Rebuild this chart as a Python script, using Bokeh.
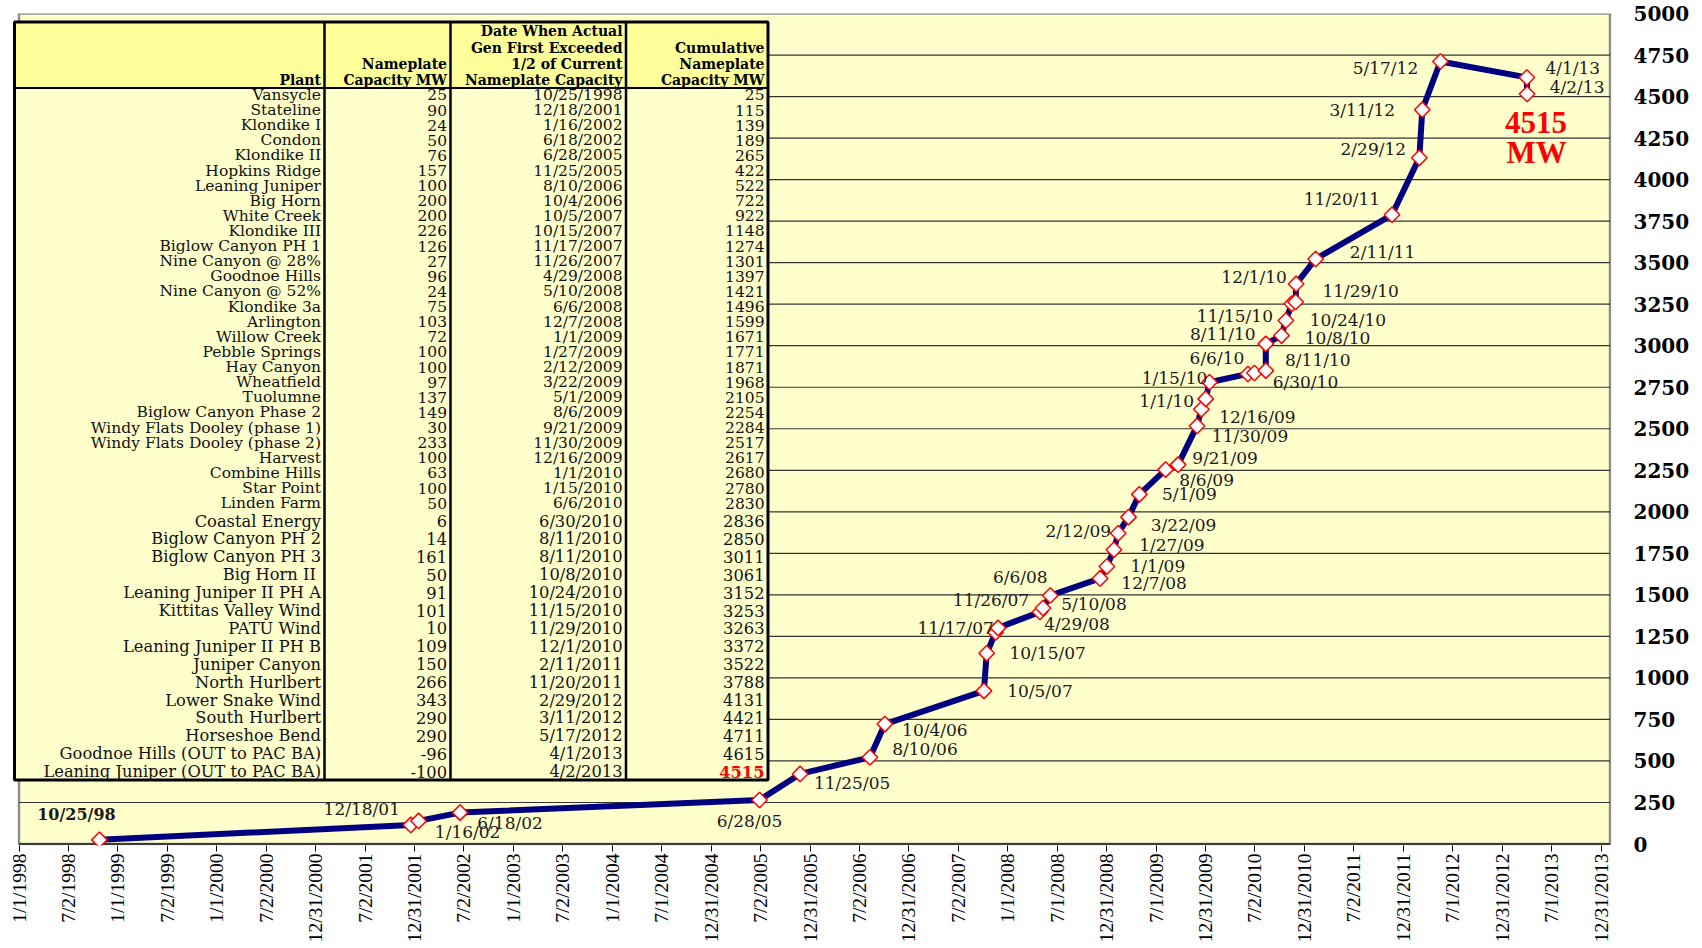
import numpy as np
import pandas as pd
from bokeh.plotting import figure
from bokeh.models import Range1d, FixedTicker, ColumnDataSource
from bokeh.core.properties import value
from bokeh.embed import file_html
from bokeh.resources import INLINE

# ---------------- data ----------------
plants = ["Vansycle", "Stateline", "Klondike I", "Condon", "Klondike II", "Hopkins Ridge",
          "Leaning Juniper", "Big Horn", "White Creek", "Klondike III", "Biglow Canyon PH 1",
          "Nine Canyon @ 28%", "Goodnoe Hills", "Nine Canyon @ 52%", "Klondike 3a", "Arlington",
          "Willow Creek", "Pebble Springs", "Hay Canyon", "Wheatfield", "Tuolumne",
          "Biglow Canyon Phase 2", "Windy Flats Dooley (phase 1)", "Windy Flats Dooley (phase 2)",
          "Harvest", "Combine Hills", "Star Point", "Linden Farm", "Coastal Energy",
          "Biglow Canyon PH 2", "Biglow Canyon PH 3", "Big  Horn II", "Leaning Juniper II PH A",
          "Kittitas Valley Wind", "PATU Wind", "Leaning Juniper II PH B", "Juniper Canyon",
          "North Hurlbert", "Lower Snake Wind", "South Hurlbert", "Horseshoe Bend",
          "Goodnoe Hills (OUT to PAC BA)", "Leaning Juniper (OUT to PAC BA)"]
nameplate_mw = [25, 90, 24, 50, 76, 157, 100, 200, 200, 226, 126, 27, 96, 24, 75, 103, 72, 100,
                100, 97, 137, 149, 30, 233, 100, 63, 100, 50, 6, 14, 161, 50, 91, 101, 10, 109,
                150, 266, 343, 290, 290, -96, -100]
first_gen_dates = ["10/25/1998", "12/18/2001", "1/16/2002", "6/18/2002", "6/28/2005",
                   "11/25/2005", "8/10/2006", "10/4/2006", "10/5/2007", "10/15/2007",
                   "11/17/2007", "11/26/2007", "4/29/2008", "5/10/2008", "6/6/2008",
                   "12/7/2008", "1/1/2009", "1/27/2009", "2/12/2009", "3/22/2009", "5/1/2009",
                   "8/6/2009", "9/21/2009", "11/30/2009", "12/16/2009", "1/1/2010",
                   "1/15/2010", "6/6/2010", "6/30/2010", "8/11/2010", "8/11/2010",
                   "10/8/2010", "10/24/2010", "11/15/2010", "11/29/2010", "12/1/2010",
                   "2/11/2011", "11/20/2011", "2/29/2012", "3/11/2012", "5/17/2012",
                   "4/1/2013", "4/2/2013"]
cumulative_mw = [25, 115, 139, 189, 265, 422, 522, 722, 922, 1148, 1274, 1301, 1397, 1421,
                 1496, 1599, 1671, 1771, 1871, 1968, 2105, 2254, 2284, 2517, 2617, 2680, 2780,
                 2830, 2836, 2850, 3011, 3061, 3152, 3253, 3263, 3372, 3522, 3788, 4131, 4421,
                 4711, 4615, 4515]
x_tick_labels = ["1/1/1998", "7/2/1998", "1/1/1999", "7/2/1999", "1/1/2000", "7/2/2000",
                 "12/31/2000", "7/2/2001", "12/31/2001", "7/2/2002", "1/1/2003", "7/2/2003",
                 "1/1/2004", "7/1/2004", "12/31/2004", "7/2/2005", "12/31/2005", "7/2/2006",
                 "12/31/2006", "7/2/2007", "1/1/2008", "7/1/2008", "12/31/2008", "7/1/2009",
                 "12/31/2009", "7/2/2010", "12/31/2010", "7/2/2011", "12/31/2011", "7/1/2012",
                 "12/31/2012", "7/1/2013", "12/31/2013"]
y_ticks = list(range(0, 5001, 250))
column_headers = ["Plant",
                  "Nameplate\nCapacity MW",
                  "Date When Actual\nGen First Exceeded\n1/2 of Current\nNameplate Capacity",
                  "Cumulative\nNameplate\nCapacity MW"]
total_unit = "MW"

# ---------------- layout / style (screen pixels) ----------------
label_offsets = [(-23, -25), (-49, -16), (49, 11), (50, 10), (-10, 21), (52, 9), (55, -8),
                 (50, 6), (56, 0), (61, 0), (-40, -4), (-7, -28), (37, 12), (51, -4),
                 (-30, -19), (54, 5), (51, 0), (58, -5), (-40, -2), (55, 8), (50, 0), (41, 10),
                 (47, -7), (53, 10), (56, 8), (-39, 2), (-35, -4), (-31, -16), (51, 9),
                 (52, -11), (-43, -10), (56, 2), (62, 0), (-57, 12), (65, -11), (-42, -7),
                 (67, -7), (-50, -16), (-46, -9), (-60, 0), (-55, 6), (46, -9), (50, -7)]

W, H = 1700, 946
WIN_L, WIN_R, WIN_T, WIN_B = 12, 1611, 13, 845
MB_L, MB_R, MB_T, MB_B = WIN_L, W - WIN_R, WIN_T, H - WIN_B
TICK0_PX, TICKN_PX = 18.5, 1600.5
BORDER_R_PX = 1609.5
ZERO_PX = 843.5

dates = pd.to_datetime(first_gen_dates, format="%m/%d/%Y")
x_ms = (dates.astype("int64") // 10**6).to_numpy().astype(float)
tick_dates = pd.to_datetime(x_tick_labels, format="%m/%d/%Y")
t_first = float(tick_dates[0].value // 10**6)
t_last = float(tick_dates[-1].value // 10**6)
ms_per_px = (t_last - t_first) / (TICKN_PX - TICK0_PX)


def px2ms(px):
    return t_first + (px - TICK0_PX) * ms_per_px


tick_ms = [int(round(v)) for v in np.linspace(t_first, t_last, len(x_tick_labels))]
y_per_px = y_ticks[-1] / (ZERO_PX - WIN_T)
y_start = -(WIN_B - ZERO_PX) * y_per_px

p = figure(width=W, height=H, output_backend="svg", toolbar_location=None,
           x_range=Range1d(px2ms(WIN_L), px2ms(WIN_R)), y_range=Range1d(y_start, y_ticks[-1]),
           y_axis_location="right",
           min_border_left=MB_L, min_border_right=MB_R, min_border_top=MB_T,
           min_border_bottom=MB_B, background_fill_color="white",
           border_fill_color="white", outline_line_color=None)
p.grid.visible = False
p.extra_x_ranges = {"tx": Range1d(WIN_L, WIN_R)}
p.extra_y_ranges = {"ty": Range1d(WIN_B, WIN_T)}

# axes
xa = p.xaxis[0]
xa.ticker = FixedTicker(ticks=tick_ms)
xa.major_label_overrides = {t: lab for t, lab in zip(tick_ms, x_tick_labels)}
xa.major_label_orientation = np.pi / 2
xa.axis_line_color = None
xa.major_tick_out = 6
xa.major_tick_in = 0
xa.major_tick_line_color = "black"
xa.minor_tick_line_color = None
xa.major_label_standoff = 2
xa.major_label_text_font = "Liberation Serif"
xa.major_label_text_font_size = "19.5px"
xa.major_label_text_color = "black"

ya = p.yaxis[0]
ya.ticker = FixedTicker(ticks=y_ticks)
ya.axis_line_color = None
ya.major_tick_line_color = None
ya.minor_tick_line_color = None
ya.major_label_standoff = 16
ya.major_label_text_font = "DejaVu Serif"
ya.major_label_text_font_style = "bold"
ya.major_label_text_font_size = "20px"
ya.major_label_text_color = "black"

# plot area background and grid
x_left_border = t_first
x_right_border = px2ms(BORDER_R_PX)
p.quad(left=[x_left_border], right=[x_right_border], bottom=[0], top=[y_ticks[-1]],
       fill_color="#FFFFCC", line_color="#8C8C8C", line_width=2.5)
grid_y = y_ticks[1:-1]
p.segment(x0=[x_left_border] * len(grid_y), x1=[x_right_border] * len(grid_y),
          y0=grid_y, y1=grid_y, line_color="#333333", line_width=1.2)
p.segment(x0=[x_left_border], x1=[x_right_border], y0=[0], y1=[0],
          line_color="#222222", line_width=1.5)

# ---------------- table ----------------
T_L, T_R, T_T, T_HB, T_B = 14, 767.5, 21.5, 87.5, 779.5
col_seps = [324, 450, 625.5]
col_right = [320.5, 446.5, 622, 764]
tr = dict(x_range_name="tx", y_range_name="ty")
p.quad(left=[T_L], right=[T_R], top=[T_T], bottom=[T_HB], fill_color="#FFFF99",
       line_color=None, **tr)
p.quad(left=[T_L], right=[T_R], top=[T_HB], bottom=[T_B], fill_color="#FFFFCC",
       line_color=None, **tr)
p.segment(x0=col_seps, x1=col_seps, y0=[T_T] * 3, y1=[T_B] * 3, line_color="black",
          line_width=2.5, **tr)
p.segment(x0=[T_L], x1=[T_R], y0=[T_HB], y1=[T_HB], line_color="black", line_width=2, **tr)
p.quad(left=[T_L], right=[T_R], top=[T_T], bottom=[T_B], fill_color=None,
       line_color="black", line_width=3, **tr)

header_line_y = [30.5, 47, 63.5, 79.5]
hx, hy, ht = [], [], []
for ci, h in enumerate(column_headers):
    lines = h.split("\n")
    for li, s in enumerate(lines):
        hx.append(col_right[ci])
        hy.append(header_line_y[len(header_line_y) - len(lines) + li])
        ht.append(s)
p.text(x=hx, y=hy, text=ht, text_align="right", text_baseline="middle",
       text_font=value("DejaVu Serif"), text_font_style="bold", text_font_size="14px",
       text_color="black", **tr)

n = len(plants)
SPLIT = 28
row_y = [94.4 + i * 15.12 if i < SPLIT else 520.5 + (i - SPLIT) * 17.9 for i in range(n)]
cells = [plants, [str(v) for v in nameplate_mw], first_gen_dates,
         [str(v) for v in cumulative_mw[:-1]] + [""]]
for ci, col in enumerate(cells):
    for lo, hi, fs in ((0, SPLIT, "15.5px"), (SPLIT, n, "16.3px")):
        p.text(x=[col_right[ci]] * (hi - lo), y=row_y[lo:hi], text=col[lo:hi],
               text_align="right", text_baseline="middle", text_font=value("DejaVu Serif"),
               text_font_size=fs, text_color="#111111", **tr)
p.text(x=[col_right[3]], y=[row_y[-1]], text=[str(cumulative_mw[-1])], text_align="right",
       text_baseline="middle", text_font=value("DejaVu Serif"), text_font_style="bold",
       text_font_size="16.3px", text_color="#FF0000", **tr)

# ---------------- series ----------------
src = ColumnDataSource(dict(x=x_ms, y=cumulative_mw))
p.line("x", "y", source=src, line_width=6, line_color="#000080", line_join="round")
p.scatter("x", "y", source=src, marker="square", angle=np.pi / 4, size=11,
          fill_color="white", line_color="#FF0000", line_width=1.5)

short_labels = [f"{d.month}/{d.day}/{d.year % 100:02d}" for d in dates]
lab_src = ColumnDataSource(dict(x=x_ms[1:], y=cumulative_mw[1:], text=short_labels[1:],
                                dx=[o[0] for o in label_offsets[1:]],
                                dy=[o[1] for o in label_offsets[1:]]))
p.text("x", "y", text="text", x_offset="dx", y_offset="dy", source=lab_src,
       text_align="center", text_baseline="middle", text_font=value("DejaVu Serif"),
       text_font_size="17px", text_color="#1a1a1a")
p.text(x=[x_ms[0]], y=[cumulative_mw[0]], text=[short_labels[0]],
       x_offset=label_offsets[0][0], y_offset=label_offsets[0][1],
       text_align="center", text_baseline="middle", text_font=value("DejaVu Serif"),
       text_font_style="bold", text_font_size="16px", text_color="#1a1a1a")

# total annotation
p.text(x=[x_ms[-1], x_ms[-1]], y=[cumulative_mw[-1]] * 2,
       text=[str(cumulative_mw[-1]), total_unit], x_offset=[9, 9.5], y_offset=[28, 58.5],
       text_align="center", text_baseline="middle", text_font=value("Liberation Serif"),
       text_font_style="bold", text_font_size="31px", text_color="#FF0000")

open("out.html", "w").write(file_html(p, INLINE))
